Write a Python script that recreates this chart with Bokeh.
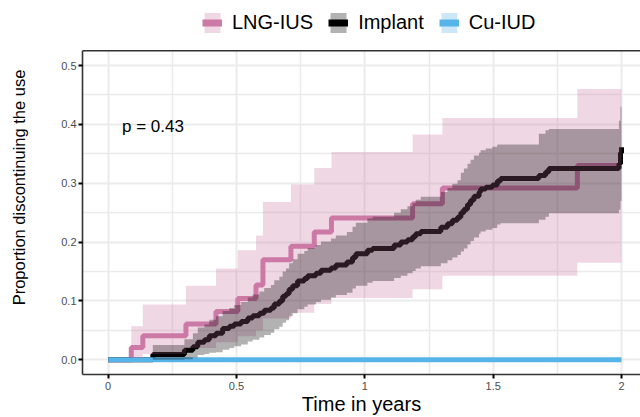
from bokeh.plotting import figure
from bokeh.models import Range1d, FixedTicker, Legend, LegendItem, Label, Span, BoxAnnotation
from bokeh.embed import file_html
from bokeh.resources import INLINE

FONT = "Liberation Sans"
NAN = float("nan")

groups = ["LNG-IUS", "Implant", "Cu-IUD"]
colors = ["#CC79A7", "#000000", "#56B4E9"]

# LNG-IUS: cumulative discontinuation (step after each time) with CI
lng_time = [0, 0.09, 0.135, 0.303, 0.42, 0.505, 0.576, 0.603, 0.712, 0.803, 0.87, 1.186, 1.302, 1.828, 2.0]
lng_est = [0, 0.021, 0.041, 0.061, 0.082, 0.104, 0.127, 0.170, 0.193, 0.217, 0.241, 0.265, 0.292, 0.330, 0.330]
lng_low = [0, 0.003, 0.010, 0.020, 0.030, 0.040, 0.050, 0.070, 0.080, 0.095, 0.105, 0.120, 0.143, 0.165, 0.165]
lng_up = [0, 0.057, 0.094, 0.126, 0.155, 0.186, 0.211, 0.268, 0.298, 0.326, 0.353, 0.383, 0.411, 0.460, 0.460]

# Implant
imp_time = [0, 0.174, 0.297, 0.33, 0.349, 0.375, 0.394, 0.42, 0.446, 0.472, 0.491, 0.518, 0.544, 0.563,
            0.589, 0.608, 0.634, 0.647, 0.667, 0.68, 0.693, 0.705, 0.719, 0.738, 0.764, 0.777, 0.809,
            0.829, 0.868, 0.887, 0.93, 0.952, 0.965, 1.01, 1.03, 1.114, 1.14, 1.166, 1.186, 1.198,
            1.218, 1.296, 1.322, 1.341, 1.361, 1.374, 1.386, 1.40, 1.412, 1.425, 1.445, 1.451, 1.471,
            1.497, 1.516, 1.529, 1.678, 1.704, 1.717, 1.99, 1.996, 2.0]
imp_est = [0, 0.009, 0.016, 0.022, 0.030, 0.034, 0.041, 0.045, 0.053, 0.057, 0.061, 0.065, 0.071, 0.075,
           0.079, 0.084, 0.088, 0.095, 0.100, 0.108, 0.112, 0.120, 0.126, 0.134, 0.138, 0.143, 0.147,
           0.152, 0.156, 0.161, 0.166, 0.174, 0.180, 0.186, 0.189, 0.195, 0.200, 0.204, 0.209, 0.214,
           0.218, 0.225, 0.231, 0.237, 0.242, 0.250, 0.256, 0.264, 0.271, 0.278, 0.285, 0.290, 0.293,
           0.297, 0.304, 0.308, 0.313, 0.319, 0.325, 0.333, 0.352, 0.361]
imp_low = [0, 0.000, 0.001, 0.004, 0.008, 0.010, 0.012, 0.013, 0.017, 0.020, 0.023, 0.026, 0.031, 0.034,
           0.038, 0.042, 0.046, 0.052, 0.056, 0.063, 0.067, 0.074, 0.079, 0.086, 0.090, 0.094, 0.098,
           0.102, 0.106, 0.110, 0.114, 0.121, 0.126, 0.131, 0.134, 0.139, 0.143, 0.147, 0.151, 0.155,
           0.159, 0.164, 0.169, 0.174, 0.178, 0.184, 0.189, 0.196, 0.202, 0.208, 0.214, 0.218, 0.221,
           0.224, 0.230, 0.232, 0.238, 0.243, 0.249, 0.255, 0.270, 0.277]
imp_up = [0, 0.025, 0.035, 0.045, 0.055, 0.060, 0.068, 0.074, 0.083, 0.088, 0.093, 0.098, 0.106, 0.111,
          0.116, 0.122, 0.127, 0.135, 0.141, 0.150, 0.155, 0.164, 0.171, 0.180, 0.185, 0.190, 0.195,
          0.201, 0.206, 0.211, 0.217, 0.226, 0.233, 0.240, 0.243, 0.250, 0.256, 0.261, 0.266, 0.272,
          0.277, 0.285, 0.292, 0.299, 0.305, 0.318, 0.325, 0.333, 0.340, 0.347, 0.352, 0.356, 0.359,
          0.362, 0.366, 0.366, 0.384, 0.390, 0.392, 0.406, 0.430, 0.440]

# Cu-IUD
cu_time = [0, 2.0]
cu_est = [0, 0]
cu_low = [0, 0]
cu_up = [0, 0]

x_ticks = [0, 0.5, 1, 1.5, 2]
x_tick_labels = ["0", "0.5", "1", "1.5", "2"]
x_minor = [0.25, 0.75, 1.25, 1.75]
y_ticks = [0, 0.1, 0.2, 0.3, 0.4, 0.5]
y_tick_labels = ["0.0", "0.1", "0.2", "0.3", "0.4", "0.5"]
y_minor = [0.05, 0.15, 0.25, 0.35, 0.45]

p_value_text = "p = 0.43"

Y_LO, Y_HI = -0.025, 0.525          # panel limits
Y_TOP = 0.6105                       # extra room above panel for the legend

p = figure(width=640, height=417, output_backend="svg", toolbar_location=None,
           x_range=Range1d(-0.1, 2.074), y_range=Range1d(Y_LO, Y_TOP),
           min_border_left=82, min_border_right=0, min_border_top=0, min_border_bottom=43)
p.outline_line_color = None
p.background_fill_color = "white"
p.border_fill_color = "white"

series = [
    (lng_time, lng_est, lng_low, lng_up),
    (imp_time, imp_est, imp_low, imp_up),
    (cu_time, cu_est, cu_low, cu_up),
]

# lines first
for (t, e, lo, up), col in zip(series, colors):
    p.step(x=t, y=e, mode="after", line_color=col, line_width=5)
# ribbons on top
for (t, e, lo, up), col in zip(series, colors):
    p.varea_step(x=t, y1=lo, y2=up, step_mode="after", fill_color=col, fill_alpha=0.3)

# grids
for g in (p.xgrid[0], p.ygrid[0]):
    g.grid_line_color = "#EBEBEB"
    g.grid_line_width = 2
    g.minor_grid_line_color = "#EBEBEB"
    g.minor_grid_line_width = 1.5

p.xaxis.ticker = FixedTicker(ticks=x_ticks, minor_ticks=x_minor)
p.yaxis.ticker = FixedTicker(ticks=y_ticks, minor_ticks=y_minor)
p.xaxis.major_label_overrides = dict(zip(x_ticks, x_tick_labels))
p.yaxis.major_label_overrides = dict(zip(y_ticks, y_tick_labels))
p.yaxis.bounds = (Y_LO, Y_HI)

for ax in (p.xaxis[0], p.yaxis[0]):
    ax.axis_line_color = "#333333"
    ax.axis_line_width = 1.6
    ax.major_tick_line_color = "black"
    ax.major_tick_line_width = 2
    ax.major_tick_out = 4
    ax.major_tick_in = 0
    ax.minor_tick_line_color = None
    ax.major_label_text_font = FONT
    ax.major_label_text_font_size = "11px"
    ax.major_label_text_color = "#4D4D4D"
    ax.axis_label_text_font = FONT
    ax.axis_label_text_font_style = "normal"
    ax.axis_label_text_color = "black"

p.xaxis.axis_label = "Time in years"
p.xaxis.axis_label_text_font_size = "20px"
p.xaxis.axis_label_standoff = 0
p.xaxis.major_label_standoff = 3

p.yaxis.axis_label = "Proportion discontinuing the use"
p.yaxis.axis_label_text_font_size = "16.5px"
p.yaxis.axis_label_standoff = 30
p.yaxis.major_label_standoff = 2

# white cover above the panel (hides grid lines there) and top border line
p.add_layout(BoxAnnotation(bottom=Y_HI, fill_color="white", fill_alpha=1.0, line_color=None))
p.add_layout(Span(location=Y_HI, dimension="width", line_color="#333333", line_width=1.6))

# p-value
p.add_layout(Label(x=0.054, y=0.396, text=p_value_text, text_baseline="middle", text_align="left",
                   text_font=FONT, text_font_size="17px", text_color="black"))

# legend keys: renderers with no drawable (NaN) data, used only for the key glyphs
items = []
for name, col in zip(groups, colors):
    r_box = p.varea(x=[NAN], y1=[NAN], y2=[NAN], fill_color=col, fill_alpha=0.3)
    r_ln = p.line(x=[NAN, NAN], y=[NAN, NAN], line_color=col, line_width=7)
    items.append(LegendItem(label=name, renderers=[r_box, r_ln]))

legend = Legend(items=items, orientation="horizontal", location=(120, 339),
                label_text_font=FONT, label_text_font_size="20px", label_text_color="black",
                glyph_width=20, glyph_height=25, label_height=25, label_standoff=10, spacing=15,
                padding=0, margin=0, background_fill_alpha=0, border_line_alpha=0)
p.add_layout(legend)

open("out.html", "w").write(file_html(p, INLINE))
